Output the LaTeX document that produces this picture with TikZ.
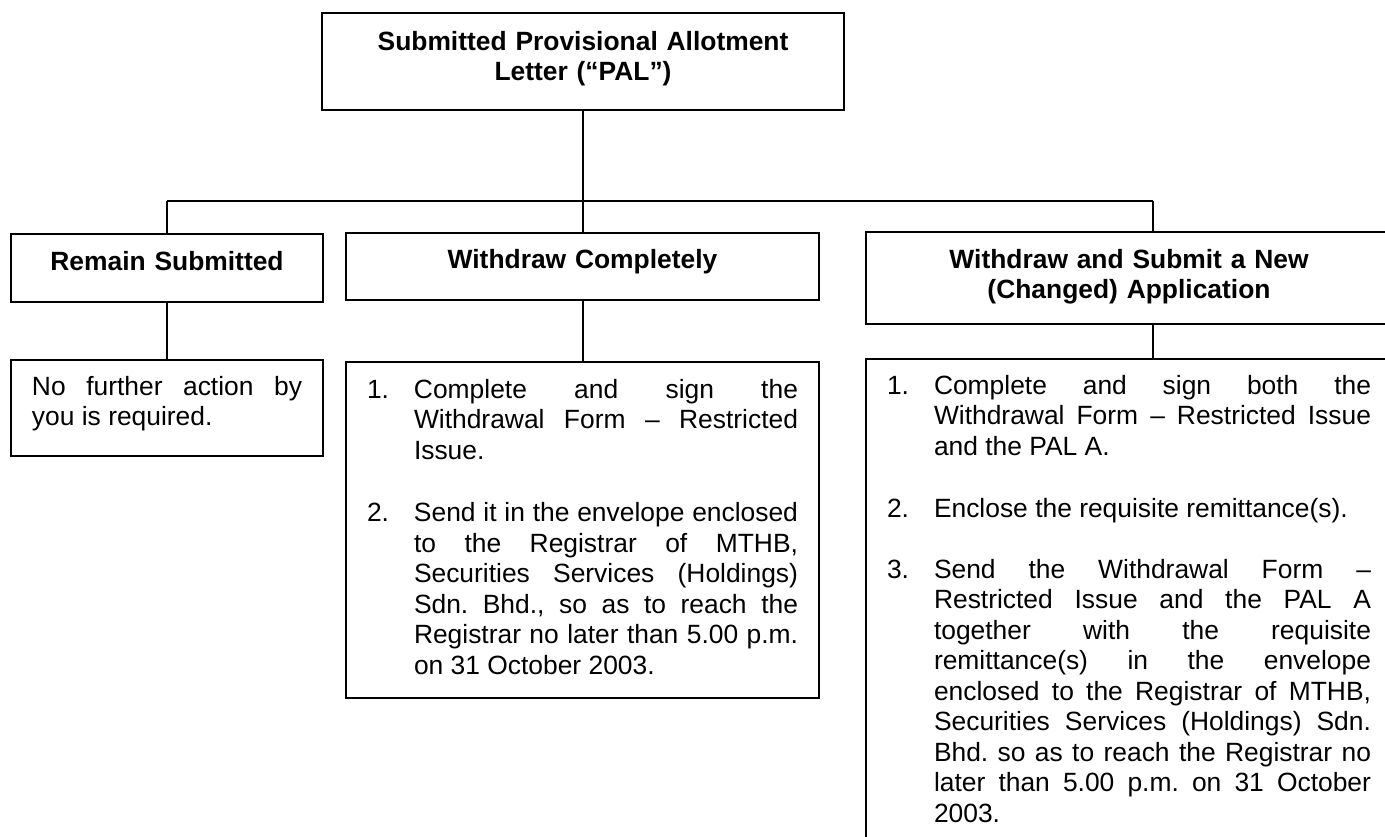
\documentclass[tikz,border=0pt]{standalone}
\usepackage{fontspec}
\setmainfont{Liberation Sans}
\usetikzlibrary{calc}
\frenchspacing
\hbadness=10000
\newcommand{\stepitem}[2]{\noindent\makebox[23.5pt][l]{#1}%
  \parbox[t]{\dimexpr\linewidth-23.5pt\relax}{\strut#2\strut}\par}
\newcommand{\stepgap}{\vspace{15pt}}

\tikzset{
  box/.style={draw, line width=1pt, anchor=north west, inner xsep=10.5pt, inner ysep=0pt,
    outer sep=0pt, font=\fontsize{13.2}{15.25}\selectfont},
  headbox/.style={box, font=\fontsize{13.2}{15}\selectfont\bfseries, align=center},
  notebox/.style={box, align=justify},
  link/.style={line width=1pt}
}

\begin{document}
\begin{tikzpicture}[x=0.5pt,y=-0.5pt]
  \useasboundingbox (0,0) rectangle (1385,836);
  \clip (0,0) rectangle (1385,836);

  % top of the tree
  \node[headbox, text width=240pt, text height=18.5pt, text depth=30pt] (pal) at (322,13)
    {Submitted Provisional Allotment\\Letter (“PAL”)};

  % the three choices
  \node[headbox, text width=135pt, text height=18pt, text depth=16pt] (remain) at (11,234)
    {Remain Submitted};
  \node[headbox, text width=215.5pt, text height=17.5pt, text depth=16pt] (withdraw) at (346,233)
    {Withdraw Completely};
  \node[headbox, text width=242pt, text height=18pt, text depth=28pt] (resubmit) at (866,232)
    {Withdraw and Submit a New\\(Changed) Application};

  % what to do for each choice
  \node[notebox, text width=135pt, text height=17.5pt, text depth=30.5pt] (nofurther) at (11,360)
    {No further action by\linebreak you is required.};
  \node[notebox, text width=215.5pt, text height=18pt, text depth=150pt] (steps) at (346,362)
    {\stepitem{1.}{Complete and sign the\linebreak Withdrawal Form – Restricted\linebreak Issue.}\stepgap
     \stepitem{2.}{Send it in the envelope enclosed\linebreak to the Registrar of MTHB,\linebreak
     Securities Services (Holdings)\linebreak Sdn. Bhd., so as to reach the\linebreak
     Registrar no later than 5.00 p.m.\linebreak on 31 October 2003.}};
  \node[notebox, text width=242pt, text height=17.5pt, text depth=233pt] (newsteps) at (866,359)
    {\stepitem{1.}{Complete and sign both the\linebreak Withdrawal Form – Restricted Issue\linebreak and the PAL A.}\stepgap
     \stepitem{2.}{Enclose the requisite remittance(s).}\stepgap
     \stepitem{3.}{Send the Withdrawal Form –\linebreak Restricted Issue and the PAL A\linebreak
     together with the requisite\linebreak remittance(s) in the envelope\linebreak
     enclosed to the Registrar of MTHB,\linebreak Securities Services (Holdings) Sdn.\linebreak
     Bhd. so as to reach the Registrar no\linebreak later than 5.00 p.m. on 31 October\linebreak 2003.}};

  % connectors
  \coordinate (busL) at (167,201);
  \coordinate (busR) at (1153,201);
  \draw[link] (pal.south) -- (pal.south |- withdraw.north);
  \draw[link] (busL) -- (busR);
  \draw[link] (busL) -- (busL |- remain.north);
  \draw[link] (busR) -- (busR |- resubmit.north);
  \draw[link] (remain.south) -- (nofurther.north);
  \draw[link] (withdraw.south) -- (steps.north);
  \draw[link] (resubmit.south -| busR) -- (newsteps.north -| busR);
\end{tikzpicture}
\end{document}
